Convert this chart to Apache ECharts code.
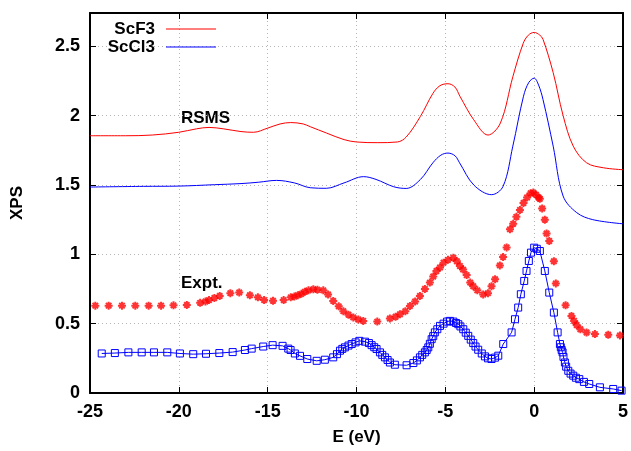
<!DOCTYPE html>
<html>
<head>
<meta charset="utf-8">
<script src="https://cdn.jsdelivr.net/npm/echarts@6/dist/echarts.min.js"></script>
<style>
  html, body { margin: 0; padding: 0; background: #fff; }
  #chart { width: 631px; height: 451px; }
</style>
</head>
<body>
<div id="chart"></div>
<script>
// RSMS calculations (smooth curves)
const scf3E = [-25, -23, -21.5, -20, -19, -18.3, -17.5, -16.5, -15.8, -15, -14.3, -13.7, -13, -12.6, -11.7, -10.7, -10, -8.8, -7.7, -7.2, -6.4, -5.7, -5.3, -4.85, -4.46, -4.18, -3.4, -2.6, -1.9, -1.2, -0.62, -0.33, 0, 0.32, 0.5, 1.07, 1.63, 2.2, 2.95, 3.9, 5];
const scf3I = [1.855, 1.855, 1.86, 1.88, 1.905, 1.915, 1.905, 1.885, 1.88, 1.91, 1.94, 1.95, 1.94, 1.92, 1.875, 1.827, 1.81, 1.805, 1.81, 1.846, 1.995, 2.16, 2.216, 2.23, 2.206, 2.14, 1.97, 1.86, 1.947, 2.28, 2.52, 2.58, 2.60, 2.58, 2.55, 2.31, 2.0, 1.78, 1.66, 1.624, 1.61];

const sccl3E = [-25, -22, -20, -18, -16.5, -15.5, -14.5, -13.5, -12.6, -11.7, -10.7, -9.6, -8.9, -7.9, -7.2, -6.4, -5.7, -5.25, -4.85, -4.45, -4.2, -3.4, -2.4, -1.75, -1.2, -0.6, -0.3, 0, 0.25, 0.5, 1.07, 1.63, 2.4, 3.3, 5];
const sccl3I = [1.485, 1.49, 1.492, 1.502, 1.51, 1.52, 1.533, 1.515, 1.48, 1.476, 1.515, 1.56, 1.54, 1.487, 1.475, 1.54, 1.66, 1.715, 1.73, 1.71, 1.66, 1.50, 1.43, 1.49, 1.78, 2.14, 2.24, 2.27, 2.22, 2.115, 1.78, 1.42, 1.30, 1.25, 1.22];

// Experiment
const scf3ExpE = [-24.7, -23.95, -23.2, -22.45, -21.7, -21.0, -20.3, -19.55, -18.8, -18.5, -18.3, -18.0, -17.7, -17.1, -16.6, -16.0, -15.55, -15.2, -14.7, -14.1, -13.7, -13.5, -13.3, -13.1, -12.9, -12.7, -12.43, -12.2, -11.87, -11.6, -11.31, -11.0, -10.74, -10.45, -10.18, -9.9, -9.62, -8.83, -8.12, -7.8, -7.55, -7.25, -6.99, -6.7, -6.43, -6.15, -5.87, -5.68, -5.5, -5.3, -5.1, -4.85, -4.55, -4.35, -4.18, -4.0, -3.8, -3.6, -3.43, -3.2, -2.87, -2.6, -2.4, -2.2, -1.93, -1.75, -1.55, -1.36, -1.18, -1.0, -0.8, -0.6, -0.4, -0.2, -0.05, 0.1, 0.25, 0.32, 0.45, 0.6, 0.7, 0.85, 1.11, 1.22, 1.77, 2.1, 2.25, 2.39, 2.6, 2.95, 3.42, 4.17, 4.83];
const scf3ExpI = [0.63, 0.63, 0.63, 0.63, 0.63, 0.63, 0.632, 0.635, 0.65, 0.66, 0.67, 0.685, 0.70, 0.72, 0.725, 0.705, 0.69, 0.67, 0.665, 0.67, 0.69, 0.695, 0.705, 0.715, 0.73, 0.74, 0.748, 0.745, 0.74, 0.71, 0.664, 0.625, 0.59, 0.565, 0.545, 0.53, 0.52, 0.515, 0.537, 0.55, 0.568, 0.59, 0.628, 0.66, 0.70, 0.75, 0.796, 0.84, 0.88, 0.905, 0.94, 0.96, 0.976, 0.95, 0.916, 0.89, 0.85, 0.796, 0.77, 0.74, 0.71, 0.72, 0.77, 0.82, 0.92, 0.98, 1.05, 1.18, 1.22, 1.27, 1.32, 1.37, 1.41, 1.44, 1.445, 1.43, 1.41, 1.40, 1.33, 1.25, 1.15, 1.096, 0.95, 0.79, 0.633, 0.556, 0.52, 0.49, 0.46, 0.436, 0.425, 0.42, 0.415];

const sccl3ExpE = [-24.34, -23.6, -22.84, -22.09, -21.4, -20.65, -19.94, -19.19, -18.47, -17.72, -16.97, -16.28, -15.9, -15.25, -14.72, -14.16, -13.84, -13.71, -13.47, -13.18, -12.77, -12.24, -11.78, -11.31, -11.1, -10.93, -10.8, -10.65, -10.45, -10.27, -10.05, -9.84, -9.52, -9.3, -9.15, -9.0, -8.87, -8.68, -8.55, -8.4, -8.25, -8.12, -7.84, -7.18, -6.8, -6.6, -6.43, -6.3, -6.15, -6.05, -5.96, -5.87, -5.77, -5.68, -5.59, -5.45, -5.3, -5.1, -4.9, -4.74, -4.55, -4.4, -4.27, -4.15, -3.99, -3.85, -3.71, -3.57, -3.43, -3.3, -3.15, -2.95, -2.77, -2.6, -2.4, -2.2, -2.02, -1.74, -1.27, -1.08, -0.9, -0.75, -0.56, -0.43, -0.3, -0.18, 0.0, 0.15, 0.32, 0.6, 0.85, 1.11, 1.32, 1.45, 1.5, 1.55, 1.6, 1.65, 1.73, 1.8, 1.92, 2.05, 2.2, 2.35, 2.54, 2.8, 3.1, 3.7, 4.45, 4.92];
const sccl3ExpI = [0.285, 0.288, 0.293, 0.293, 0.293, 0.293, 0.285, 0.28, 0.283, 0.288, 0.295, 0.31, 0.32, 0.335, 0.345, 0.34, 0.32, 0.31, 0.285, 0.268, 0.245, 0.232, 0.24, 0.257, 0.28, 0.305, 0.318, 0.329, 0.342, 0.353, 0.365, 0.376, 0.37, 0.36, 0.345, 0.33, 0.317, 0.293, 0.275, 0.257, 0.238, 0.22, 0.204, 0.2, 0.216, 0.235, 0.257, 0.275, 0.293, 0.31, 0.329, 0.355, 0.388, 0.41, 0.437, 0.46, 0.484, 0.5, 0.515, 0.52, 0.515, 0.505, 0.496, 0.48, 0.46, 0.435, 0.412, 0.385, 0.36, 0.335, 0.312, 0.285, 0.264, 0.25, 0.245, 0.255, 0.269, 0.353, 0.437, 0.532, 0.616, 0.712, 0.808, 0.88, 0.952, 1.012, 1.048, 1.04, 1.024, 0.88, 0.724, 0.58, 0.437, 0.353, 0.33, 0.31, 0.293, 0.26, 0.22, 0.19, 0.16, 0.14, 0.125, 0.11, 0.1, 0.08, 0.065, 0.041, 0.029, 0.017];

const xTicks = { min: -25, max: 5, interval: 5 };
const yTicks = { min: 0, max: 2.74, interval: 0.5 };

const zip = (xs, ys) => xs.map((x, i) => [x, ys[i]]);

const FONT = "'Liberation Sans', Arial, sans-serif";
const RED = '#ff0000';
const BLUE = '#0000ff';
const star = 'path://M0,5L10,5M5,0L5,10M1.6,1.6L8.4,8.4M8.4,1.6L1.6,8.4';

const chart = echarts.init(document.getElementById('chart'));

const axisCommon = {
  type: 'value',
  axisLine: { show: true, onZero: false, lineStyle: { color: '#000', width: 2 } },
  axisTick: { show: true, inside: true, length: 6, lineStyle: { color: '#000', width: 1 } },
  axisLabel: { color: '#000', fontFamily: FONT, fontWeight: 'bold', fontSize: 18 },
  nameTextStyle: { color: '#000', fontFamily: FONT, fontWeight: 'bold', fontSize: 17 }
};
const gridLine = { show: true, lineStyle: { color: '#b4b4b4', type: [1, 3], width: 1 } };

const option = {
  animation: false,
  backgroundColor: '#fff',
  grid: { left: 90, right: 8, top: 13, bottom: 57 },
  legend: {
    data: [{ name: 'ScF3', icon: 'rect' }, { name: 'ScCl3', icon: 'rect' }],
    orient: 'vertical',
    right: 410,
    top: 15,
    align: 'right',
    itemWidth: 50,
    itemHeight: 1,
    itemGap: 0,
    textStyle: { color: '#000', fontFamily: FONT, fontWeight: 'bold', fontSize: 17, lineHeight: 18, padding: [0, 6, 0, 0] }
  },
  xAxis: [
    Object.assign({}, axisCommon, xTicks, {
      name: 'E (eV)', nameLocation: 'middle', nameGap: 36,
      splitLine: gridLine,
      axisLabel: Object.assign({}, axisCommon.axisLabel, { margin: 10 })
    }),
    Object.assign({}, axisCommon, xTicks, {
      position: 'top', axisLabel: { show: false }, splitLine: { show: false }
    })
  ],
  yAxis: [
    Object.assign({}, axisCommon, yTicks, {
      name: 'XPS', nameLocation: 'middle', nameGap: 64,
      splitLine: gridLine,
      axisLabel: Object.assign({}, axisCommon.axisLabel, { margin: 10, showMaxLabel: false })
    }),
    Object.assign({}, axisCommon, yTicks, {
      position: 'right', axisLabel: { show: false }, splitLine: { show: false }
    })
  ],
  graphic: [
    { type: 'text', left: 181, top: 110, style: { text: 'RSMS', fill: '#000', font: "bold 17px 'Liberation Sans', Arial, sans-serif" } },
    { type: 'text', left: 181, top: 275, style: { text: 'Expt.', fill: '#000', font: "bold 17px 'Liberation Sans', Arial, sans-serif" } }
  ],
  series: [
    {
      name: 'ScF3', type: 'line', data: zip(scf3E, scf3I), smooth: 0.35,
      symbol: 'none', color: RED, lineStyle: { color: RED, width: 1 }
    },
    {
      name: 'ScCl3', type: 'line', data: zip(sccl3E, sccl3I), smooth: 0.35,
      symbol: 'none', color: BLUE, lineStyle: { color: BLUE, width: 1 }
    },
    {
      name: 'ScF3 expt', type: 'scatter', data: zip(scf3ExpE, scf3ExpI),
      symbol: star, symbolSize: 8,
      itemStyle: { color: 'none', borderColor: RED, borderWidth: 2 }
    },
    {
      name: 'ScCl3 expt', type: 'line', data: zip(sccl3ExpE, sccl3ExpI),
      symbol: 'rect', symbolSize: 7, showAllSymbol: true,
      lineStyle: { color: BLUE, width: 1 },
      itemStyle: { color: 'rgba(0,0,0,0)', borderColor: BLUE, borderWidth: 1 }
    }
  ]
};
chart.setOption(option);
</script>
</body>
</html>
